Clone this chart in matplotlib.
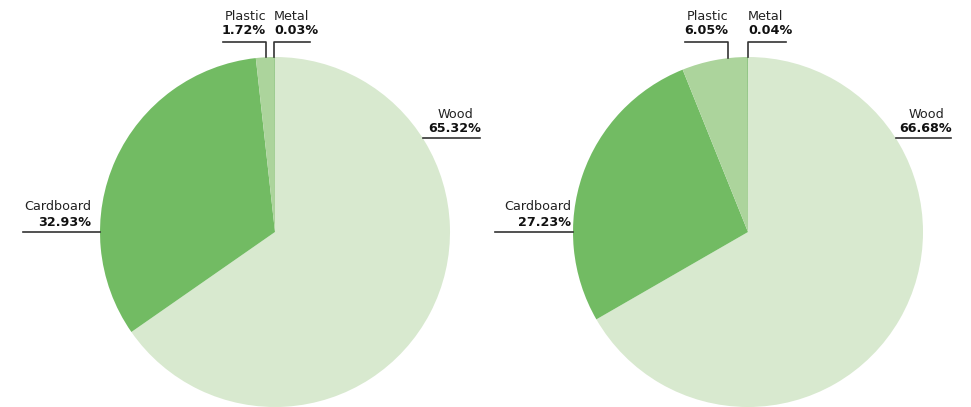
import matplotlib
matplotlib.use("Agg")
import matplotlib.pyplot as plt
import numpy as np

# data
materials = ["Wood", "Cardboard", "Plastic", "Metal"]
shares_left = [65.32, 32.93, 1.72, 0.03]
shares_right = [66.68, 27.23, 6.05, 0.04]
colors = ["#d8e9cf", "#72bb63", "#acd49c", "#3f9a2f"]

W, H = 971, 407
fig = plt.figure(figsize=(W / 100, H / 100), dpi=100)
ax = fig.add_axes([0, 0, 1, 1])
ax.set_xlim(0, W)
ax.set_ylim(0, H)
ax.set_aspect("equal")
ax.axis("off")

R = 175
line_col = "#333333"
fs = 9.2


def draw_pie(cx, cy, shares, lab):
    # cy is pixel row from top
    ax.pie(shares, colors=colors, startangle=90, counterclock=False,
           center=(cx, H - cy), radius=R, frame=True,
           wedgeprops=dict(linewidth=0))

    def edge_y(x):
        return H - (cy - np.sqrt(R ** 2 - (x - cx) ** 2))

    def edge_x(y, side):
        return cx + side * np.sqrt(R ** 2 - (y - cy) ** 2)

    def put(x, y_name, y_pct, name, pct, ha):
        ax.text(x, H - y_name, name, ha=ha, va="center", fontsize=fs, color="#222222")
        ax.text(x, H - y_pct, f"{pct:.2f}%", ha=ha, va="center", fontsize=fs,
                fontweight="bold", color="#111111")

    # wood (right)
    wy, wx2, wtx = lab["wood"]
    wx1 = edge_x(wy, 1)
    ax.plot([wx1, wx2], [H - wy, H - wy], color=line_col, lw=1.2)
    put(wtx, wy - 23, wy - 9, materials[0], shares[0], "center")

    # cardboard (left)
    cy_line, cx1, ctx = lab["card"]
    cx2 = edge_x(cy_line, -1)
    ax.plot([cx1, cx2], [H - cy_line, H - cy_line], color=line_col, lw=1.2)
    put(ctx, cy_line - 25, cy_line - 10, materials[1], shares[1], "right")

    # plastic (top, bracket to the left)
    px, px1 = lab["plastic"]
    ax.plot([px1, px, px], [H - 42, H - 42, edge_y(px)], color=line_col, lw=1.2)
    put(px, 16, 31, materials[2], shares[2], "right")

    # metal (top, bracket to the right)
    mx, mx2 = lab["metal"]
    ax.plot([mx2, mx, mx], [H - 42, H - 42, edge_y(mx)], color=line_col, lw=1.2)
    put(mx, 16, 31, materials[3], shares[3], "left")


draw_pie(275, 232, shares_left,
         {"wood": (138, 480, 455), "card": (232, 23, 91),
          "plastic": (266, 223), "metal": (274, 310)})
draw_pie(748, 232, shares_right,
         {"wood": (138, 951, 926), "card": (232, 495, 571),
          "plastic": (728, 685), "metal": (748, 786)})

ax.set_xlim(0, W)
ax.set_ylim(0, H)
ax.axis("off")

fig.savefig("out.png", dpi=100)
